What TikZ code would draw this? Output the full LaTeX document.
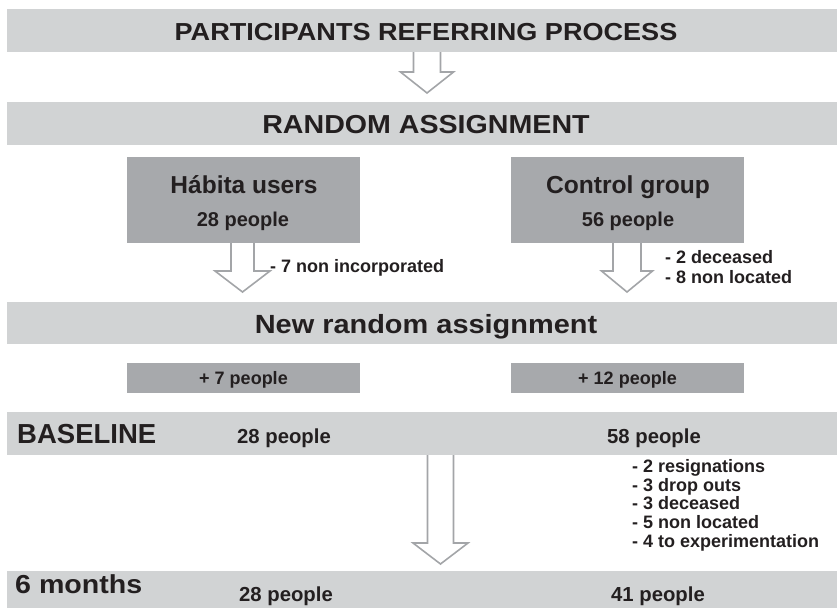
\documentclass[tikz,border=0pt]{standalone}
\usepackage{fontspec}
\setmainfont{Liberation Sans}
\newfontfamily\widefont[FakeStretch=1.1]{Liberation Sans}
\usetikzlibrary{calc}
\definecolor{barfill}{HTML}{D1D3D4}
\definecolor{boxfill}{HTML}{A7A9AC}
\definecolor{arrowline}{HTML}{A3A5A8}
\definecolor{ink}{HTML}{231F20}

% hollow block arrow: start, tip, half shaft width, half head width
\newcommand{\hollowdown}[4]{%
  \draw[hollow] let \p1=(#1), \p2=(#2) in
    (\x1-#3,\y1) -- (\x1-#3,\y2+21pt) -- (\x1-#4,\y2+21pt) -- (\x2,\y2)
    -- (\x1+#4,\y2+21pt) -- (\x1+#3,\y2+21pt) -- (\x1+#3,\y1);}

\begin{document}
\begin{tikzpicture}[x=1pt, y=-1pt,
  bar/.style={fill=barfill, minimum width=830pt, minimum height=43pt, inner sep=0pt},
  box/.style={fill=boxfill, minimum width=233pt, minimum height=86pt, inner sep=0pt},
  hollow/.style={draw=arrowline, fill=white, line width=1.6pt, line join=miter},
  head/.style={text=ink, inner sep=0pt, anchor=base, font=\widefont\bfseries\fontsize{#1}{#1}\selectfont},
  txt/.style={text=ink, inner sep=0pt, anchor=base, font=\bfseries\fontsize{#1}{#1}\selectfont}]
  \useasboundingbox (0,0) rectangle (837,608);

  \node[bar] (top) at (422,30.5) {};
  \node[bar] (rand) at (422,123.5) {};
  \node[bar, minimum height=42pt] (newrand) at (422,323) {};
  \node[bar] (base) at (422,433.5) {};
  \node[bar, minimum height=37pt] (six) at (422,589.5) {};

  \node[box] (hab) at (243.5,200) {};
  \node[box] (ctrl) at (627.5,200) {};
  \node[box, minimum height=30pt] (plushab) at (243.5,378) {};
  \node[box, minimum height=30pt] (plusctrl) at (627.5,378) {};

  \coordinate (tip1) at (427,93);
  \coordinate (tip2) at (242.5,292);
  \coordinate (tip3) at (627,292);
  \coordinate (tip4) at (440.5,564);
  \hollowdown{tip1 |- top.south}{tip1}{13.5pt}{26.5pt}
  \hollowdown{tip2 |- hab.south}{tip2}{11.5pt}{27.5pt}
  \hollowdown{tip3 |- ctrl.south}{tip3}{14pt}{25.5pt}
  \hollowdown{tip4 |- base.south}{tip4}{13pt}{27.5pt}

  \node[head=24.6] (toptxt) at (426,40) {PARTICIPANTS REFERRING PROCESS};
  \node[head=26] (randtxt) at (426,133) {RANDOM ASSIGNMENT};

  \node[txt=24.5] (habtxt) at (244,193) {Hábita users};
  \node[txt=20] (habn) at (243,226) {28 people};
  \node[txt=24.6] (ctrltxt) at (628,193) {Control group};
  \node[txt=20] (ctrln) at (628,226) {56 people};

  \node[txt=18, anchor=base west] (habloss) at (270,272) {- 7 non incorporated};
  \node[txt=18, anchor=base west] (ctrlloss1) at (665,263) {- 2 deceased};
  \node[txt=18, anchor=base west] (ctrlloss2) at (665,283) {- 8 non located};

  \node[head=26.3] (newtxt) at (426,333) {New random assignment};
  \node[txt=18] (plushabtxt) at (243.5,384) {+ 7 people};
  \node[txt=18] (plusctrltxt) at (627.5,384) {+ 12 people};

  \node[txt=27.5, anchor=base west] (basetxt) at (17,443) {BASELINE};
  \node[txt=20.3] (basehab) at (284,443) {28 people};
  \node[txt=20.3] (basectrl) at (654,443) {58 people};

  \node[txt=18, anchor=base west] (loss1) at (632,472) {- 2 resignations};
  \node[txt=18, anchor=base west] (loss2) at (632,491) {- 3 drop outs};
  \node[txt=18, anchor=base west] (loss3) at (632,509.5) {- 3 deceased};
  \node[txt=18, anchor=base west] (loss4) at (632,528) {- 5 non located};
  \node[txt=18, anchor=base west] (loss5) at (632,547) {- 4 to experimentation};

  \node[head=26, anchor=base west] (sixtxt) at (15,593) {6 months};
  \node[txt=20.3] (sixhab) at (286,601) {28 people};
  \node[txt=20.3] (sixctrl) at (658,601) {41 people};
\end{tikzpicture}
\end{document}
